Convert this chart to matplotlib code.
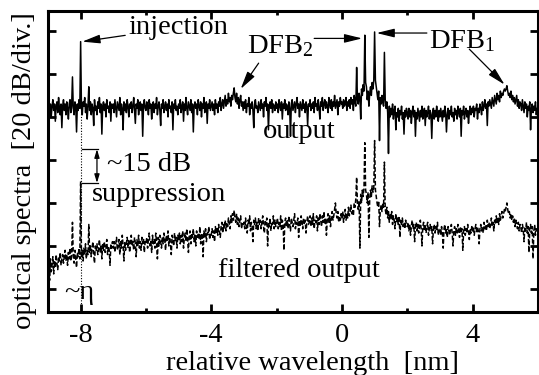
import numpy as np
import matplotlib
matplotlib.use("Agg")
import matplotlib.pyplot as plt

# -----------------------------
# data: spectra sampled every 0.025 nm from -9 to 6 nm (values in dB, 20 dB per division)
# one row = 1 nm (40 samples)
# -----------------------------
wl_start, wl_step = -9.0, 0.025

# unfiltered output (solid)
output_db = [
    # -9
    84, 87, 82, 86, 80, 85, 88, 83, 86, 78, 85, 87, 82, 89, 84, 81, 86, 75, 85, 88,
    83, 86, 81, 87, 84, 79, 86, 88, 82, 85, 98.6, 84, 81, 87, 85, 73, 86, 83, 88, 84,
    # -8
    115, 84, 81, 87, 85, 89, 82, 86, 79, 85, 94, 83, 87, 81, 86, 84, 76, 88, 83, 85,
    81, 87, 84, 89, 82, 86, 72, 85, 87, 83, 86, 80, 88, 84, 85, 82, 87, 78, 86, 84,
    # -7
    86, 82, 88, 84, 80, 87, 85, 83, 89, 81, 86, 84, 74, 87, 83, 86, 82, 88, 85, 80,
    86, 84, 87, 82, 85, 89, 83, 77, 86, 84, 88, 81, 85, 87, 83, 86, 71, 85, 88, 84,
    # -6
    83, 87, 85, 81, 88, 84, 86, 79, 85, 87, 82, 86, 84, 89, 81, 85, 87, 83, 76, 86,
    84, 88, 82, 85, 87, 83, 86, 80, 88, 84, 85, 82, 87, 74, 86, 84, 88, 83, 85, 81,
    # -5
    86, 84, 88, 82, 85, 87, 78, 86, 83, 89, 84, 81, 87, 85, 83, 88, 82, 86, 73, 85,
    87, 84, 86, 81, 88, 85, 83, 87, 80, 86, 84, 89, 82, 85, 87, 77, 86, 84, 88, 83,
    # -4
    85, 87, 83, 86, 81, 88, 84, 86, 82, 87, 85, 89, 83, 86, 88, 84, 87, 90, 85, 88,
    86, 91, 87, 89, 85, 90, 88, 91, 93.5, 89, 87, 91, 86, 89, 84, 88, 90, 85, 87, 83,
    # -3
    87, 84, 88, 82, 86, 85, 89, 81, 86, 84, 87, 83, 75, 86, 88, 84, 85, 82, 87, 85,
    83, 88, 84, 86, 80, 87, 85, 89, 83, 86, 74, 85, 87, 84, 88, 82, 86, 85, 83, 87,
    # -2
    84, 86, 82, 88, 85, 83, 87, 79, 86, 84, 88, 83, 86, 85, 81, 87, 84, 71, 86, 88,
    83, 85, 87, 82, 86, 89, 84, 86, 80, 87, 85, 83, 88, 84, 86, 82, 87, 85, 76, 86,
    # -1
    85, 88, 83, 86, 84, 87, 82, 89, 85, 86, 83, 88, 84, 79, 87, 85, 89, 83, 86, 88,
    84, 87, 85, 82, 89, 86, 84, 88, 83, 87, 85, 90, 84, 86, 88, 81, 87, 85, 89, 86,
    # 0
    87, 84, 88, 85, 86, 89, 83, 87, 85, 88, 84, 89, 86, 88, 83, 90, 87, 85, 103, 88,
    86, 91, 89, 79, 93, 90, 95, 92, 118, 96, 94, 88, 92, 85, 91, 94, 90, 96, 93, 97,
    # 1
    119.5, 97, 94, 91, 88, 92, 69, 89, 86, 90, 87, 85, 110, 88, 84, 87, 82, 63, 85, 80,
    84, 81, 86, 79, 83, 85, 74, 82, 80, 84, 78, 83, 81, 85, 79, 82, 72, 83, 80, 84,
    # 2
    82, 79, 84, 80, 83, 77, 82, 85, 80, 83, 71, 82, 79, 84, 81, 78, 83, 80, 85, 79,
    82, 84, 76, 83, 80, 82, 85, 79, 83, 81, 70, 82, 84, 79, 83, 80, 85, 81, 78, 83,
    # 3
    80, 84, 81, 78, 83, 80, 85, 82, 73, 81, 84, 79, 83, 81, 85, 80, 82, 78, 84, 81,
    83, 79, 85, 82, 80, 84, 71, 83, 81, 85, 79, 82, 84, 80, 83, 77, 82, 85, 81, 84,
    # 4
    82, 85, 80, 84, 83, 86, 79, 84, 82, 86, 84, 81, 87, 83, 85, 88, 84, 86, 76, 87,
    85, 88, 86, 84, 89, 87, 85, 90, 88, 86, 91, 88, 90, 87, 92, 89, 91, 90, 92, 93,
    # 5
    92, 93, 94.5, 92, 90, 91, 89, 92, 88, 90, 87, 89, 86, 88, 90, 85, 88, 84, 87, 86,
    83, 88, 85, 82, 87, 84, 86, 80, 85, 83, 87, 74, 84, 86, 82, 85, 83, 87, 81, 84,
    # 6
    84,
]

# filtered output (dashed)
filtered_db = [
    # -9
    6, 12, 4, 14, 8, 11, 15, 7, 13, 10, 16, 12, 9, 15, 13, 17, 11, 14, 16, 12,
    15, 18, 13, 16, 11, 17, 14, 19, 13, 16, 31, 15, 12, 18, 14, 10, 17, 15, 19, 14,
    # -8
    50, 15, 18, 13, 19, 16, 21, 14, 18, 16, 30, 17, 20, 15, 19, 22, 16, 12, 20, 18,
    21, 16, 19, 23, 17, 20, 14, 21, 18, 22, 17, 19, 23, 16, 20, 18, 11, 21, 19, 22,
    # -7
    19, 22, 17, 21, 24, 18, 20, 23, 16, 22, 19, 25, 20, 13, 22, 18, 21, 24, 19, 23,
    17, 21, 25, 20, 22, 18, 24, 21, 15, 23, 20, 25, 19, 22, 18, 24, 21, 23, 17, 22,
    # -6
    21, 24, 19, 23, 26, 20, 22, 17, 25, 21, 23, 19, 26, 22, 14, 24, 20, 25, 22, 19,
    24, 21, 26, 23, 18, 25, 22, 27, 20, 24, 21, 16, 25, 23, 20, 26, 22, 24, 19, 25,
    # -5
    23, 26, 21, 25, 22, 27, 19, 24, 26, 22, 28, 23, 17, 25, 27, 21, 26, 24, 28, 22,
    25, 20, 27, 24, 26, 23, 29, 21, 26, 25, 15, 27, 24, 28, 22, 26, 25, 29, 23, 26,
    # -4
    25, 28, 24, 27, 22, 29, 26, 28, 25, 30, 27, 24, 29, 31, 26, 30, 28, 32, 27, 31,
    29, 33, 30, 28, 34, 31, 35, 32, 36.5, 33, 31, 35, 30, 33, 29, 32, 34, 28, 31, 30,
    # -3
    31, 28, 33, 29, 26, 32, 30, 34, 27, 31, 29, 22, 32, 30, 33, 28, 31, 27, 33, 30,
    32, 28, 31, 34, 29, 26, 32, 30, 33, 20, 31, 29, 33, 27, 31, 30, 34, 28, 32, 29,
    # -2
    30, 33, 28, 31, 29, 34, 27, 32, 30, 18, 31, 33, 29, 32, 28, 34, 30, 27, 33, 31,
    29, 32, 35, 28, 31, 30, 33, 24, 32, 29, 34, 31, 28, 33, 30, 32, 26, 31, 34, 30,
    # -1
    31, 34, 29, 33, 30, 35, 28, 32, 31, 34, 27, 33, 30, 35, 32, 29, 34, 31, 36, 30,
    33, 25, 32, 35, 31, 34, 29, 33, 36, 32, 34, 37, 40, 35, 33, 36, 31, 34, 32, 35,
    # 0
    33, 36, 31, 34, 37, 32, 35, 33, 38, 34, 36, 39, 35, 37, 34, 40, 38, 42, 52, 39,
    37, 41, 19, 44, 40, 46, 43, 47, 68, 46, 44, 40, 45, 24, 42, 46, 43, 48, 45, 47,
    # 1
    69, 46, 43, 40, 38, 41, 29, 37, 39, 36, 40, 38, 59, 37, 35, 38, 33, 36, 31, 35,
    33, 36, 30, 34, 32, 28, 35, 31, 33, 30, 34, 24, 32, 30, 33, 29, 31, 28, 32, 30,
    # 2
    29, 31, 27, 30, 25, 29, 32, 28, 30, 22, 29, 31, 27, 30, 26, 29, 32, 28, 20, 29,
    31, 27, 30, 26, 29, 31, 25, 28, 30, 27, 29, 21, 28, 30, 26, 29, 27, 31, 25, 28,
    # 3
    28, 25, 29, 26, 19, 28, 30, 26, 28, 24, 29, 27, 25, 28, 30, 26, 20, 27, 29, 25,
    28, 26, 30, 27, 24, 29, 26, 28, 18, 27, 29, 25, 28, 26, 30, 27, 23, 28, 26, 29,
    # 4
    27, 29, 25, 28, 30, 26, 29, 27, 21, 28, 30, 27, 29, 26, 31, 28, 30, 27, 32, 29,
    31, 28, 30, 33, 29, 31, 27, 32, 30, 34, 31, 33, 30, 35, 32, 34, 36, 33, 35, 37,
    # 5
    36, 38, 40, 37, 35, 36, 33, 35, 32, 34, 31, 33, 29, 32, 30, 28, 31, 27, 30, 29,
    26, 30, 28, 22, 29, 27, 31, 26, 29, 17, 28, 30, 26, 29, 14, 27, 30, 25, 28, 27,
    # 6
    27,
]

wl_output = np.arange(len(output_db)) * wl_step + wl_start
wl_filtered = np.arange(len(filtered_db)) * wl_step + wl_start

x_ticks = [-8, -4, 0, 4]
x_minor = [-6, -2, 2]
y_ticks = [0, 20, 40, 60, 80, 100, 120]

# -----------------------------
# plot
# -----------------------------
plt.rcParams["font.family"] = ["Liberation Serif", "DejaVu Serif"]
plt.rcParams["mathtext.fontset"] = "custom"
plt.rcParams["mathtext.rm"] = "Liberation Serif"
plt.rcParams["mathtext.it"] = "Liberation Serif:italic"
plt.rcParams["mathtext.default"] = "regular"
plt.rcParams["axes.unicode_minus"] = False

fig = plt.figure(figsize=(5.39, 3.75), dpi=100)
ax = fig.add_axes([0.089, 0.168, 0.909, 0.803])

ax.plot(wl_output, output_db, color="black", lw=1.1)
ax.plot(wl_filtered, filtered_db, color="black", lw=1.1, ls=(0, (3, 1.5)))

ax.set_xlim(-9, 6)
ax.set_ylim(-10.7, 129.3)

# dotted marker line at the injection wavelength
ax.plot([-8, -8], [-10.7, 83], color="black", lw=0.8, ls=(0, (1, 1.5)))

# ~15 dB bracket
ax.plot([-7.97, -7.48], [65, 65], color="black", lw=0.9)
ax.plot([-7.97, -7.48], [49.3, 49.3], color="black", lw=0.9)
ax.annotate("", xy=(-7.5, 49.3), xytext=(-7.5, 65),
            arrowprops=dict(arrowstyle="<|-|>,head_length=0.5,head_width=0.15",
                            color="black", lw=0.9, shrinkA=0, shrinkB=0,
                            mutation_scale=10))

arrow = dict(arrowstyle="-|>,head_length=0.9,head_width=0.22", color="black",
             lw=0.9, shrinkA=0, shrinkB=0, mutation_scale=12)
fs = 20.5

ax.annotate("injection", xy=(-7.95, 115), xytext=(-6.55, 121.5),
            fontsize=fs, ha="left", va="center", arrowprops=arrow)
ax.text(-2.9, 113, "DFB$_2$", fontsize=fs, ha="left", va="center")
ax.annotate("", xy=(0.62, 116.5), xytext=(-0.85, 116.5), arrowprops=arrow)
ax.annotate("", xy=(-3.1, 93), xytext=(-2.55, 105), arrowprops=arrow)
ax.text(2.68, 115, "DFB$_1$", fontsize=fs, ha="left", va="center")
ax.annotate("", xy=(1.06, 119), xytext=(2.6, 119), arrowprops=arrow)
ax.annotate("", xy=(4.98, 95), xytext=(3.9, 111.5), arrowprops=arrow)

ax.text(-2.42, 73, "output", fontsize=fs, ha="left", va="center")
ax.text(-3.8, 8.5, "filtered output", fontsize=fs, ha="left", va="center")
ax.text(-8.5, -1.5, "~\u03b7", fontsize=fs, ha="left", va="center")
ax.text(-7.2, 58, "~15 dB", fontsize=fs, ha="left", va="center")
ax.text(-7.65, 44, "suppression", fontsize=fs, ha="left", va="center")

ax.set_xticks(x_ticks)
ax.set_xticks(x_minor, minor=True)
ax.set_yticks(y_ticks)
ax.set_yticklabels([])
ax.tick_params(which="both", direction="in", top=True, right=True, width=2)
ax.tick_params(which="major", length=6, labelsize=fs, pad=8)
ax.tick_params(which="minor", length=3)
for s in ax.spines.values():
    s.set_linewidth(2.2)

ax.set_xlabel("relative wavelength  [nm]", fontsize=fs)
ax.set_ylabel("optical spectra  [20 dB/div.]", fontsize=fs)
ax.xaxis.set_label_coords(0.54, -0.128)
ax.yaxis.set_label_coords(-0.022, 0.47)

fig.savefig("out.png", dpi=100)
